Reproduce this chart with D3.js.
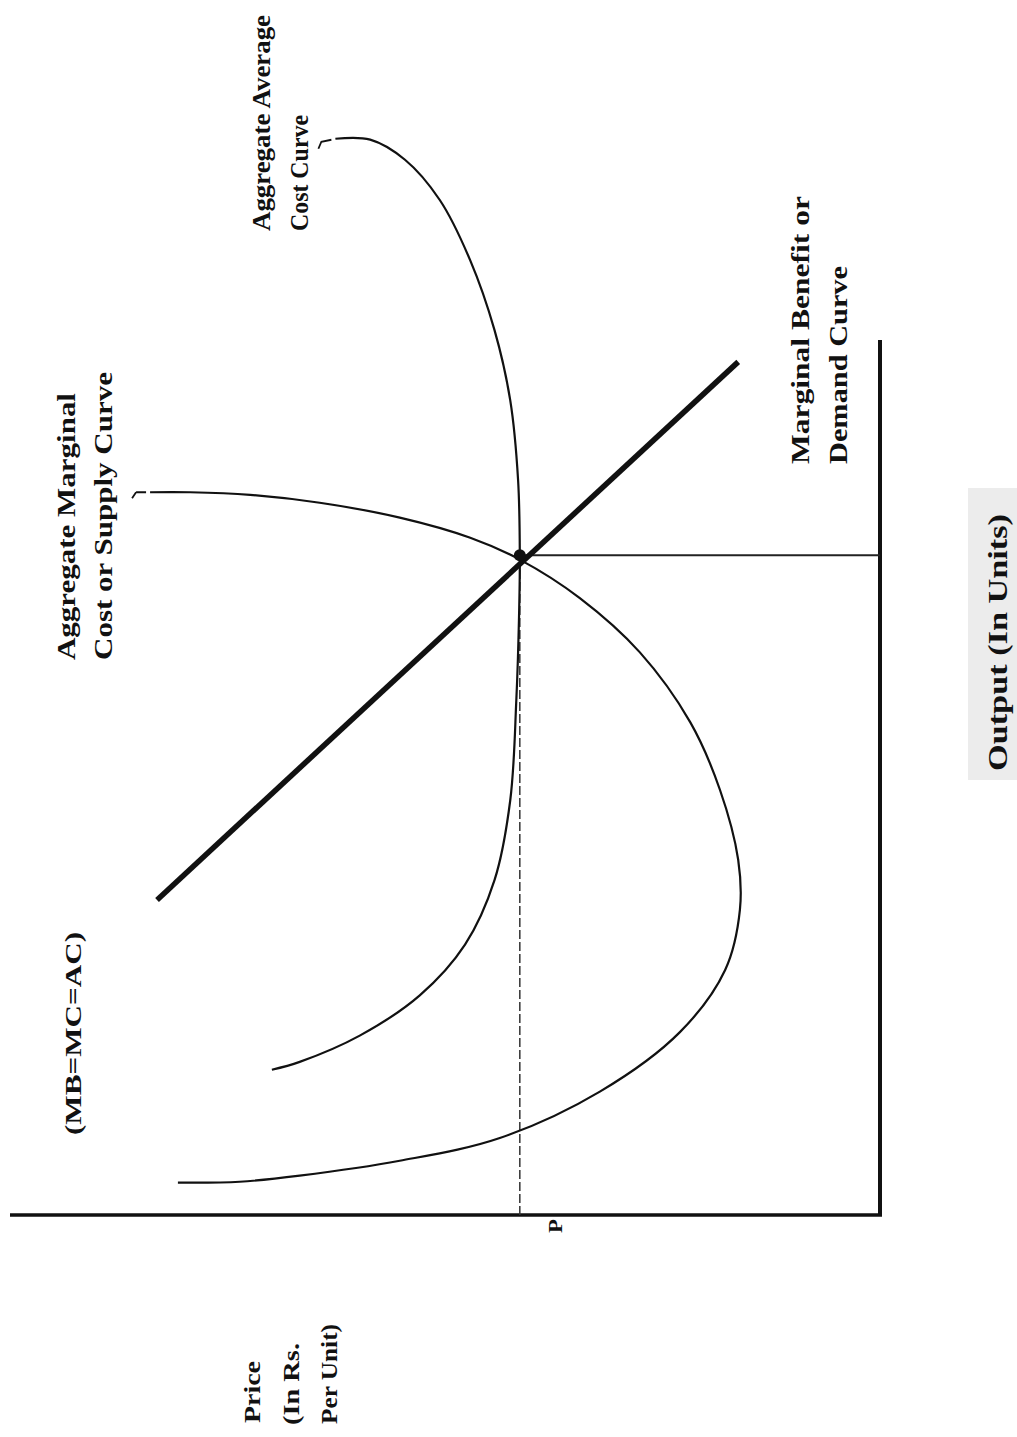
<!DOCTYPE html>
<html>
<head>
<meta charset="utf-8">
<script src="https://cdn.jsdelivr.net/npm/d3@7"></script>
<style>
  html, body { margin: 0; padding: 0; background: #fff; }
  svg { display: block; }
  text { font-family: "Liberation Serif", "Times New Roman", serif; font-weight: bold; fill: #111; }
</style>
</head>
<body>
<svg id="chart" width="1017" height="1437"></svg>
<script>
// ---- Data (output in units, price in Rs. per unit; arbitrary diagram units) ----
const mcOutput = [3.7, 3.8, 4.5, 6.2, 8.8, 14.1, 20.9, 28.0, 34.9, 40.6, 48.6, 56.3, 64.3, 70.5, 74.9, 77.4, 79.7, 81.4, 82.3, 82.6, 82.6];
const mcPrice  = [80.7, 73.6, 66.7, 55.2, 43.7, 32.2, 23.0, 17.8, 16.1, 16.3, 18.4, 21.8, 27.6, 34.5, 41.4, 47.1, 55.2, 64.4, 72.4, 79.3, 83.9];

const acOutput = [16.6, 17.5, 20.5, 25.1, 30.9, 38.3, 47.4, 58.9, 68.0, 75.4, 84.0, 93.1, 101.1, 109.1, 116.0, 120.6, 122.9, 123.0];
const acPrice  = [69.9, 66.7, 59.8, 52.9, 47.7, 44.3, 42.5, 41.8, 41.5, 41.4, 41.6, 42.5, 44.3, 47.1, 50.6, 54.6, 58.6, 62.6];

const demandOutput = [36.0, 97.5];
const demandPrice  = [83.1, 16.3];

const eqOutput = 75.4;
const eqPrice  = 41.4;

const labels = {
  mc: ["Aggregate Marginal", "Cost or Supply Curve"],
  ac: ["Aggregate Average", "Cost Curve"],
  mb: ["Marginal Benefit or", "Demand Curve"],
  eq: "(MB=MC=AC)",
  xTitle: "Output (In Units)",
  yTitle: ["Price", "(In Rs.", "Per Unit)"],
  tick: "P"
};

// ---- Scales: the diagram is rotated a quarter turn (output runs up, price runs left) ----
const svg = d3.select("#chart");
const outScale = d3.scaleLinear().domain([0, 100]).range([1215, 340]);   // output -> screen y
const priceScale = d3.scaleLinear().domain([0, 100]).range([880, 10]);   // price -> screen x

const toPts = (qs, ps) => qs.map((q, i) => [priceScale(ps[i]), outScale(q)]);
const smooth = d3.line().curve(d3.curveCatmullRom.alpha(0.5));
const straight = d3.line();

// Output title background
svg.append("rect").attr("x", 968).attr("y", 488).attr("width", 49).attr("height", 292).attr("fill", "#ececec");

// Axes
svg.append("line")
  .attr("x1", priceScale(0)).attr("y1", outScale(0))
  .attr("x2", priceScale(0)).attr("y2", outScale(100))
  .attr("stroke", "#111").attr("stroke-width", 4);
svg.append("line")
  .attr("x1", priceScale(0) + 2).attr("y1", outScale(0))
  .attr("x2", priceScale(100)).attr("y2", outScale(0))
  .attr("stroke", "#111").attr("stroke-width", 3.5);

// Dashed price line at equilibrium
svg.append("line")
  .attr("x1", priceScale(eqPrice)).attr("y1", outScale(0))
  .attr("x2", priceScale(eqPrice)).attr("y2", outScale(eqOutput))
  .attr("stroke", "#333").attr("stroke-width", 1.5).attr("stroke-dasharray", "9,3");

// Output drop line at equilibrium
svg.append("line")
  .attr("x1", priceScale(eqPrice)).attr("y1", outScale(eqOutput))
  .attr("x2", priceScale(0)).attr("y2", outScale(eqOutput))
  .attr("stroke", "#222").attr("stroke-width", 1.8);

// MC curve
svg.append("path").attr("d", smooth(toPts(mcOutput, mcPrice)))
  .attr("fill", "none").attr("stroke", "#111").attr("stroke-width", 2.2);

// AC curve
svg.append("path").attr("d", smooth(toPts(acOutput, acPrice)))
  .attr("fill", "none").attr("stroke", "#111").attr("stroke-width", 2.2);

// Demand line
svg.append("path").attr("d", straight(toPts(demandOutput, demandPrice)))
  .attr("fill", "none").attr("stroke", "#111").attr("stroke-width", 5.5);

// Equilibrium blob
svg.append("circle").attr("cx", priceScale(eqPrice)).attr("cy", outScale(eqOutput))
  .attr("r", 6).attr("fill", "#111");

// Label pointers
const mcEnd = toPts(mcOutput, mcPrice).slice(-1)[0];
svg.append("path").attr("d", `M${mcEnd[0] - 4},${mcEnd[1]} L${mcEnd[0] - 14},${mcEnd[1]} M${mcEnd[0] - 14},${mcEnd[1]} l-4,6`)
  .attr("fill", "none").attr("stroke", "#111").attr("stroke-width", 1.8);
const acEnd = toPts(acOutput, acPrice).slice(-1)[0];
svg.append("path").attr("d", `M${acEnd[0] - 4},${acEnd[1] + 1} L${acEnd[0] - 14},${acEnd[1] + 3} l-3,7`)
  .attr("fill", "none").attr("stroke", "#111").attr("stroke-width", 1.8);

// Rotated text helper
function vtext(str, xBase, yStart, len, size) {
  svg.append("text")
    .attr("transform", `translate(${xBase},${yStart}) rotate(-90)`)
    .attr("font-size", size)
    .attr("textLength", len)
    .attr("lengthAdjust", "spacingAndGlyphs")
    .text(str);
}

vtext(labels.mc[0], 75, 660, 267, 25);
vtext(labels.mc[1], 112, 660, 288, 25);
vtext(labels.ac[0], 270, 231, 216, 25);
vtext(labels.ac[1], 308, 231, 116, 25);
vtext(labels.mb[0], 809, 464, 268, 25);
vtext(labels.mb[1], 847, 464, 198, 25);
vtext(labels.eq, 81, 1135, 203, 23);
vtext(labels.xTitle, 1007, 771, 257, 27);
vtext(labels.yTitle[0], 260, 1423, 62, 23);
vtext(labels.yTitle[1], 299, 1425, 82, 23);
vtext(labels.yTitle[2], 337, 1424, 100, 23);
vtext(labels.tick, 562, 1233, 14, 18);
</script>
</body>
</html>
